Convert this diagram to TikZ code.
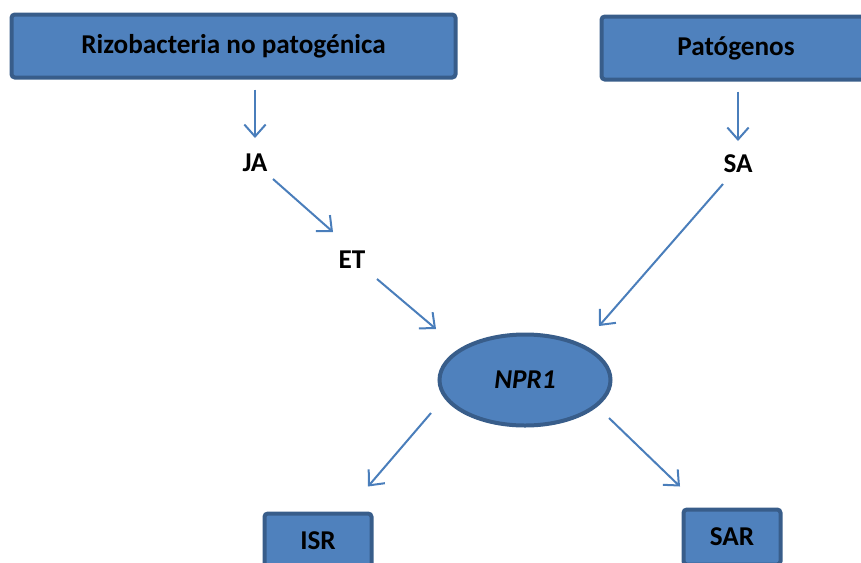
\documentclass[tikz,border=0pt]{standalone}
\usepackage{fontspec}
\setmainfont{Carlito}
\usepackage{tikz}
\usetikzlibrary{shapes.geometric,arrows.meta,calc}
\definecolor{boxfill}{RGB}{79,129,189}
\definecolor{boxline}{RGB}{56,93,138}
\definecolor{arrowblue}{RGB}{74,126,187}
\tikzset{
  block/.style={rectangle, rounded corners=2.5pt, draw=boxline, fill=boxfill,
                line width=3pt, minimum height=47.25pt,
                align=center, font=\fontsize{20.4}{24}\selectfont\bfseries},
  hub/.style={ellipse, draw=boxline, fill=boxfill, line width=3pt,
              minimum width=128.25pt, minimum height=68.25pt,
              font=\fontsize{20.4}{24}\selectfont\bfseries\itshape},
  signal/.style={inner sep=1pt, font=\fontsize{20.4}{24}\selectfont\bfseries},
  arrow/.style={-{Straight Barb[length=9pt,width=16pt]}, line width=1.5pt,
                draw=arrowblue}
}

\begin{document}
\begin{tikzpicture}[x=0.75pt, y=-0.75pt]
\path[use as bounding box] (0,0) rectangle (861,562);
\clip (0,0) rectangle (861,562);

% --- Sources ---
\node[block, minimum width=333pt] (rizo) at (233.5,46) {Rizobacteria no patogénica};
\node[block, minimum width=201.75pt] (pat) at (736,48) {Patógenos};

% --- Hormones ---
\node[signal] (ja) at (255,163) {JA};
\node[signal] (et) at (352,260) {ET};
\node[signal] (sa) at (738,164) {SA};

% --- Regulator ---
\node[hub] (npr) at (525,380) {NPR1};

% --- Responses ---
\node[block, minimum width=80.25pt, minimum height=40.5pt] (isr) at (318,540.5) {ISR};
\node[block, minimum width=72.75pt, minimum height=41.25pt] (sar) at (732,537) {SAR};

% --- Arrows ---
\draw[arrow] ($(rizo.south -| ja)+(0,10)$) -- ($(ja)+(0,-25)$);
\draw[arrow] ($(ja)+(18,16)$) -- ($(et)+(-19,-28)$);
\draw[arrow] ($(et)+(25,19)$) -- ($(npr)+(-89,-51)$);

\draw[arrow] ($(pat.south -| sa)+(0,10)$) -- ($(sa)+(0,-23)$);
\draw[arrow] ($(sa)+(-15,20)$) -- ($(npr)+(74,-54)$);

\draw[arrow] ($(npr)+(-94,33)$) -- ($(isr.north)+(50,-25)$);
\draw[arrow] ($(npr)+(84,38)$) -- ($(sar.north)+(-52,-21)$);

\end{tikzpicture}
\end{document}
